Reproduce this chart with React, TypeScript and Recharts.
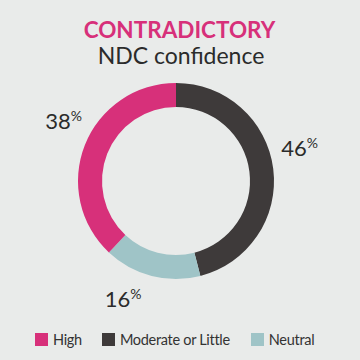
import React from 'react';
import { Cell, Pie, PieChart } from 'recharts';

// segments, drawn clockwise from 12 o'clock
const categories = ['Moderate or Little', 'Neutral', 'High'];
const shares = [46, 16, 38];
const colors = ['#3e3a3a', '#9fc4c7', '#d7307a'];

// legend order as printed
const legendOrder = ['High', 'Moderate or Little', 'Neutral'];

const data = categories.map((name, i) => ({ name, value: shares[i] }));

// the printed labels are not exactly on the mid angle, nudge them a bit (degrees)
const labelNudge: Record<string, number> = { High: -7, 'Moderate or Little': 8, Neutral: -10 };

const RADIAN = Math.PI / 180;

const renderLabel = (props: any) => {
  const { cx, cy, midAngle, name, outerRadius, value } = props;
  const r = outerRadius + 30;
  const a = midAngle + (labelNudge[name] || 0);
  const x = cx + r * Math.cos(-a * RADIAN);
  const y = cy + r * Math.sin(-a * RADIAN);

  return (
    <text
      dominantBaseline='central'
      fill='#2b2b2b'
      fontFamily='Lato, sans-serif'
      textAnchor='middle'
      x={x}
      y={y}
    >
      <tspan fontSize={22}>{value}</tspan>
      <tspan dy={-5} fontSize={14}>%</tspan>
    </text>
  );
};

function App (): JSX.Element {
  return (
    <div
      style={{
        background: '#e9ebea',
        fontFamily: 'Lato, sans-serif',
        height: 360,
        left: 0,
        position: 'absolute',
        top: 0,
        width: 360
      }}
    >
      <div style={{ color: '#d7307a', fontSize: 22.5, fontWeight: 700, left: 0, lineHeight: '26px', position: 'absolute', textAlign: 'center', top: 17, width: 359 }}>
        CONTRADICTORY
      </div>
      <div style={{ color: '#2b2b2b', fontSize: 23, left: 0, lineHeight: '26px', position: 'absolute', textAlign: 'center', top: 42, width: 362 }}>
        NDC confidence
      </div>

      <div style={{ left: 0, position: 'absolute', top: 0 }}>
        <PieChart height={360}
          margin={{ bottom: 0, left: 0, right: 0, top: 0 }}
          width={360}>
          <Pie
            cx={176}
            cy={181}
            data={data}
            dataKey='value'
            endAngle={-270}
            innerRadius={74}
            isAnimationActive={false}
            label={renderLabel}
            labelLine={false}
            outerRadius={98}
            startAngle={90}
            stroke='none'
          >
            {data.map((d, i) => (
              <Cell fill={colors[i]}
                key={d.name} />
            ))}
          </Pie>
        </PieChart>
      </div>

      <div style={{ alignItems: 'center', color: '#333', display: 'flex', fontSize: 14.5, left: 35, letterSpacing: -0.3, position: 'absolute', top: 331, whiteSpace: 'nowrap' }}>
        {legendOrder.map((name, i) => (
          <div key={name}
            style={{ alignItems: 'center', display: 'flex', marginRight: i === 0 ? 20 : 21 }}>
            <span style={{ background: colors[categories.indexOf(name)], display: 'inline-block', height: 13, marginRight: 5, width: 13 }} />
            <span>{name}</span>
          </div>
        ))}
      </div>
    </div>
  );
}

export default App;
